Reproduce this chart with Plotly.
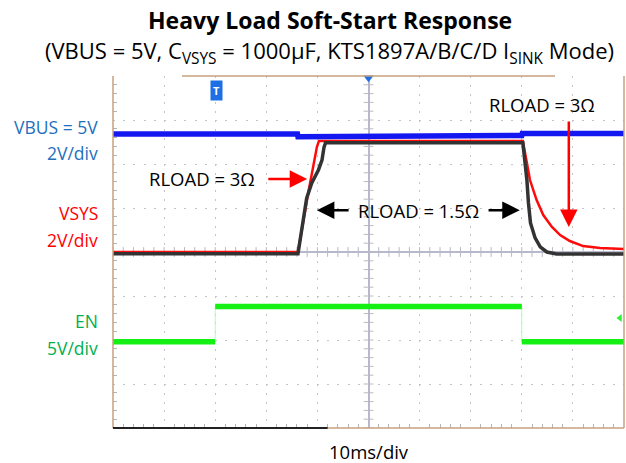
import numpy as np
import plotly.graph_objects as go

# time axis in ms (10 ms/div, 0 = screen centre)
vbus_t = [-50, -13.9, -13.8, -10.5, -10.4, 30.0, 30.1, 50]
vbus_v = [5.0, 5.0, 4.88, 4.88, 4.94, 4.94, 5.03, 5.03]

vsys_1p5_t = [-50, -13.8, -12.1, -11.1, -9.8, -9.1, -8.7, -8.4, 30.2, 30.6, 31.0, 31.3, 31.7, 32.6, 33.6, 34.9, 36.8, 50]
vsys_1p5_v = [-0.08, -0.08, 2.45, 3.14, 3.73, 4.18, 4.77, 4.97, 4.97, 4.18, 3.27, 2.23, 1.32, 0.64, 0.23, 0.0, -0.09, -0.09]

vsys_3_t = [-50, -13.8, -11.8, -10.9, -10.1, -9.7, 30.2, 31.0, 31.6, 32.9, 34.2, 35.9, 37.5, 39.4, 42.0, 45.3, 50]
vsys_3_v = [0, 0, 2.68, 3.73, 4.77, 5.05, 5.05, 4.05, 3.27, 2.36, 1.68, 1.14, 0.77, 0.50, 0.27, 0.18, 0.14]

en_t = [-50, -30.0, -30.0, 30.0, 30.0, 50]
en_v = [0, 0, 4.0, 4.0, 0, 0]

# channel settings: (ground position in divisions from centre, volts per division)
VBUS_POS, VBUS_SCALE = 0.18, 2.0
VSYS_POS, VSYS_SCALE = 0.0, 2.0
EN_POS, EN_SCALE = -2.04, 5.0

FONT = "Open Sans"
BLUE_TXT = "#1F6FC0"
RED = "#FF0000"
GREEN_TXT = "#00B050"


def to_div(v, pos, scale):
    return [pos + x / scale for x in v]


def gapped(t, y):
    # break the trace at vertical edges so only the levels are drawn thick
    xs, ys = [t[0]], [y[0]]
    for i in range(1, len(t)):
        if t[i] == t[i - 1]:
            xs.append(None)
            ys.append(None)
        xs.append(t[i])
        ys.append(y[i])
    return xs, ys


fig = go.Figure()

# graticule ticks on the centre cross
tx = np.arange(-50, 50.01, 2)
ty = np.arange(-4, 4.01, 0.2)
fig.add_trace(go.Scatter(x=tx, y=[0] * len(tx), mode="markers",
                         marker=dict(symbol="line-ns", size=7, line=dict(color="#B8B8C8", width=1)),
                         hoverinfo="skip", showlegend=False))
fig.add_trace(go.Scatter(x=[0] * len(ty), y=ty, mode="markers",
                         marker=dict(symbol="line-ew", size=7, line=dict(color="#B8B8C8", width=1)),
                         hoverinfo="skip", showlegend=False))

# EN
en_div = to_div(en_v, EN_POS, EN_SCALE)
fig.add_trace(go.Scatter(x=en_t, y=en_div, mode="lines",
                         line=dict(color="#B8F8B8", width=1), showlegend=False))
gx, gy = gapped(en_t, en_div)
fig.add_trace(go.Scatter(x=gx, y=gy, mode="lines", connectgaps=False,
                         line=dict(color="#14F014", width=5.5), showlegend=False))

# VSYS 3 ohm, 1.5 ohm
fig.add_trace(go.Scatter(x=vsys_3_t, y=to_div(vsys_3_v, VSYS_POS, VSYS_SCALE), mode="lines",
                         line=dict(color="#FF0A0A", width=2.5), showlegend=False))
fig.add_trace(go.Scatter(x=vsys_1p5_t, y=to_div(vsys_1p5_v, VSYS_POS, VSYS_SCALE), mode="lines",
                         line=dict(color="#333333", width=3.5), showlegend=False))

# VBUS
fig.add_trace(go.Scatter(x=vbus_t, y=to_div(vbus_v, VBUS_POS, VBUS_SCALE), mode="lines",
                         line=dict(color="#1418F0", width=5.5), showlegend=False))

# scope markers
fig.add_trace(go.Scatter(x=[0], y=[3.96], mode="markers", cliponaxis=False,
                         marker=dict(symbol="triangle-down", size=9, color="#1E6EE6"),
                         showlegend=False))
fig.add_trace(go.Scatter(x=[49.2], y=[-1.5], mode="markers", cliponaxis=False,
                         marker=dict(symbol="triangle-left", size=7, color="#30F030"),
                         showlegend=False))

ann = []
ann.append(dict(x=-29.8, y=3.68, xref="x", yref="y", text="<b>T</b>", showarrow=False,
                font=dict(family=FONT, size=11, color="white"), bgcolor="#1E6EE6", borderpad=2))

# titles
ann.append(dict(x=0.425, y=1.16, xref="paper", yref="paper", showarrow=False, yanchor="middle",
                text="<b>Heavy Load Soft-Start Response</b>", font=dict(family=FONT, size=23, color="black")))
ann.append(dict(x=0.423, y=1.068, xref="paper", yref="paper", showarrow=False, yanchor="middle",
                text="(VBUS = 5V, C<sub>VSYS</sub> = 1000μF, KTS1897A/B/C/D I<sub>SINK</sub> Mode)",
                font=dict(family=FONT, size=22, color="black")))
ann.append(dict(x=0.5, y=-0.068, xref="paper", yref="paper", showarrow=False, yanchor="middle",
                text="10ms/div", font=dict(family=FONT, size=18.5, color="black")))

# channel labels
for txt, py, col in [("VBUS = 5V", 127, BLUE_TXT), ("2V/div", 153, BLUE_TXT),
                     ("VSYS", 213, RED), ("2V/div", 240, RED),
                     ("EN", 321, GREEN_TXT), ("5V/div", 348, GREEN_TXT)]:
    ann.append(dict(x=-0.025, y=(428 - py) / 352, xref="paper", yref="paper", xanchor="right",
                    yanchor="middle", showarrow=False, text=txt,
                    font=dict(family=FONT, size=17.5, color=col)))

# load annotations
ann.append(dict(x=-32.5, y=1.66, xref="x", yref="y", text="RLOAD = 3Ω", showarrow=False,
                font=dict(family=FONT, size=18.5, color="black")))
ann.append(dict(x=9.7, y=0.95, xref="x", yref="y", text="RLOAD = 1.5Ω", showarrow=False,
                font=dict(family=FONT, size=18.5, color="black")))
ann.append(dict(x=33.9, y=3.36, xref="x", yref="y", text="RLOAD = 3Ω", showarrow=False,
                font=dict(family=FONT, size=18.5, color="black")))

arrows = [(-19.9, 1.66, -12.0, 1.66, RED),
          (-3.6, 0.95, -10.1, 0.95, "black"),
          (23.2, 0.95, 29.6, 0.95, "black"),
          (39.2, 3.0, 39.2, 0.57, RED)]
for ax, ay, x, y, col in arrows:
    ann.append(dict(x=x, y=y, ax=ax, ay=ay, xref="x", yref="y", axref="x", ayref="y",
                    text="", showarrow=True, arrowhead=2, arrowsize=1.4, arrowwidth=2.5,
                    arrowcolor=col))

TAN = "#C9A07E"
shapes = [
    dict(type="line", xref="paper", yref="paper", x0=0, x1=0, y0=0, y1=1, line=dict(color=TAN, width=1.5)),
    dict(type="line", xref="paper", yref="paper", x0=1, x1=1, y0=0, y1=1, line=dict(color=TAN, width=1.5)),
    dict(type="line", xref="paper", yref="paper", x0=0, x1=1, y0=0, y1=0, line=dict(color=TAN, width=1.5)),
    dict(type="line", xref="paper", yref="paper", x0=0, x1=0.42, y0=0, y1=0, line=dict(color="#222222", width=2)),
    dict(type="line", xref="paper", yref="paper", x0=0.135, x1=0.865, y0=1, y1=1, line=dict(color=TAN, width=1.5)),
]

fig.update_layout(
    width=626, height=463,
    margin=dict(l=113, r=2, t=76, b=35),
    paper_bgcolor="white", plot_bgcolor="white",
    font=dict(family=FONT),
    annotations=ann, shapes=shapes,
    xaxis=dict(range=[-50, 50], dtick=10, showgrid=True, gridcolor="#C4C4C4", griddash="2px,6.8px",
               zeroline=True, zerolinecolor="#B8B8CC", zerolinewidth=1.5,
               showticklabels=False, ticks="", showline=False, mirror="ticks",
               minor=dict(dtick=2, ticks="inside", ticklen=4, tickcolor="#B4B4B4", showgrid=False)),
    yaxis=dict(range=[-4, 4], dtick=1, showgrid=True, gridcolor="#C4C4C4", griddash="2px,8.2px",
               zeroline=True, zerolinecolor="#B8B8CC", zerolinewidth=1.5,
               showticklabels=False, ticks="", showline=False, mirror="ticks",
               minor=dict(dtick=0.2, ticks="inside", ticklen=4, tickcolor="#B4B4B4", showgrid=False)),
)

fig.write_html("out.html", config={"displayModeBar": False},
               post_script="document.body.style.margin='0';")
